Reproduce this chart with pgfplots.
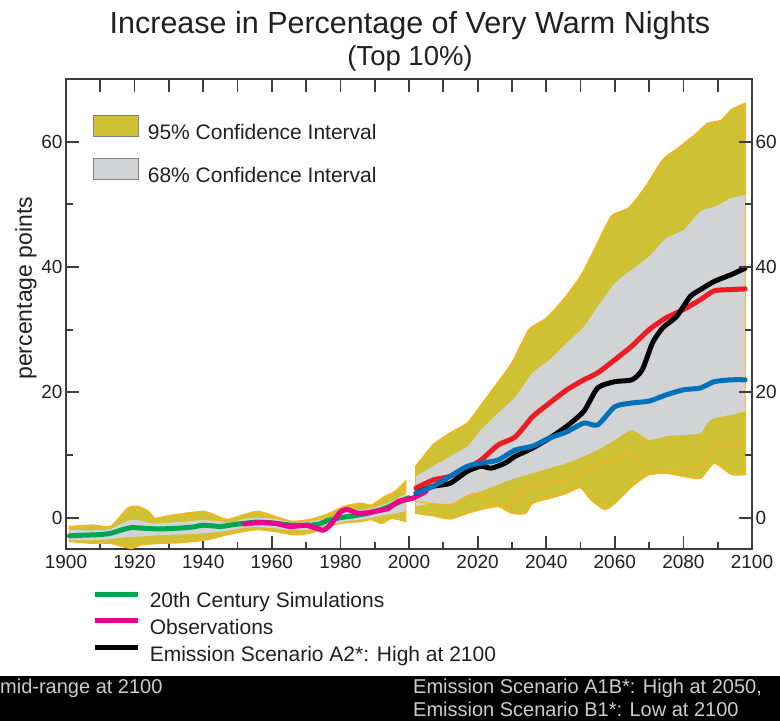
\documentclass[border=0pt]{standalone}
\usepackage{fontspec}
\setmainfont{Liberation Sans}
\usepackage{pgfplots}
\pgfplotsset{compat=1.18}
\usepgfplotslibrary{fillbetween}
\definecolor{yfill}{RGB}{206,193,52}
\definecolor{oedge}{RGB}{247,180,30}
\definecolor{gfill}{RGB}{209,211,212}
\definecolor{cgreen}{RGB}{0,166,81}
\definecolor{cmag}{RGB}{236,0,140}
\definecolor{cred}{RGB}{237,28,36}
\definecolor{cblue}{RGB}{0,114,188}
\definecolor{axg}{RGB}{60,60,60}
\definecolor{txt}{RGB}{35,31,32}
\begin{document}
\begin{tikzpicture}[x=1pt,y=1pt]
\pgfplotsset{
  common/.style={at={(0,0)}, anchor=south west, scale only axis,
    width=686pt, height=470pt, xmin=1900, xmax=2100, ymin=-5, ymax=70,
    /pgf/number format/1000 sep={}, /pgf/number format/assume math mode=true,
    tick align=inside, major tick length=13pt, minor tick length=7pt,
    tick style={axg, line width=1.8pt},
    axis line style={draw=axg, line width=1.8pt},
    ticklabel style={font=\fontsize{19}{19}\selectfont, text=txt},
    xticklabel style={yshift=-3pt}},
  hidden/.style={forget plot, smooth, tension=0.35, draw=none},
  curve/.style={forget plot, line width=5pt, line join=round, line cap=round, smooth, tension=0.4},
}
\begin{axis}[common,
  xtick={1900,1920,...,2100}, minor xtick={1910,1930,...,2090},
  ytick={0,20,40,60}, minor ytick={10,30,50},
  xtick pos=left, ytick pos=left,
  ylabel={percentage points},
  ylabel style={at={(axis description cs:-0.0583,0.555)}, anchor=center, font=\fontsize{23}{23}\selectfont, text=txt},
  legend style={draw=none, fill=none, at={(axis description cs:0.0394,0.9234)}, anchor=north west,
    font=\fontsize{21}{21}\selectfont, text=txt, inner sep=0pt, row sep=17pt, column sep=0pt,
    nodes={inner sep=0pt}},
  legend cell align=left,
  legend image code/.code={\draw[#1, draw=gray, line width=1.2pt] (0pt,-4pt) rectangle (45pt,17pt);\path[draw=none,fill=none] (0,0) -- (54pt,0);},
]
\addlegendimage{fill=yfill}
\addlegendentry{95\% Confidence Interval}
\addlegendimage{fill=gfill}
\addlegendentry{68\% Confidence Interval}
% ---- historical 95%
\addplot[hidden, name path=hu95] coordinates {
(1901,-1.4)(1908,-1.2)(1913,-1.4)(1918,1.5)(1921,1.8)(1924,1.0)(1926,-0.1)(1930,0.3)(1935,0.7)(1940,1.0)(1943,0.5)(1947,-0.3)(1952,0.5)(1956,1.0)(1961,0.2)(1966,-0.6)(1971,-0.3)(1976,0.5)(1981,1.8)(1986,2.3)(1989,2.0)(1993,3.4)(1996,4.2)(1999,5.8)
};
\addplot[hidden, name path=hl95] coordinates {
(1901,-3.8)(1908,-4.1)(1913,-4.1)(1919,-4.9)(1922,-4.3)(1927,-4.1)(1932,-4.0)(1937,-3.8)(1942,-3.4)(1947,-2.7)(1952,-2.2)(1956,-1.9)(1961,-2.2)(1966,-2.7)(1971,-2.5)(1976,-1.4)(1981,-0.8)(1986,-0.6)(1989,-0.3)(1992,-0.9)(1995,-0.1)(1999,-0.6)
};
\addplot[forget plot, fill=yfill, draw=oedge, line width=1.5pt] fill between[of=hu95 and hl95];
% ---- historical 68%
\addplot[hidden, name path=hu68] coordinates {
(1901,-2.0)(1910,-2.0)(1913,-1.8)(1918,-0.5)(1921,-0.4)(1925,-0.9)(1930,-0.8)(1935,-0.6)(1940,-0.4)(1945,-0.6)(1948,-0.8)(1952,-0.2)(1956,0.0)(1961,-0.2)(1966,-0.8)(1971,-0.6)(1976,-0.1)(1981,0.9)(1986,1.2)(1990,1.6)(1995,2.6)(1999,3.8)
};
\addplot[hidden, name path=hl68] coordinates {
(1901,-3.6)(1908,-3.6)(1913,-3.4)(1918,-3.1)(1922,-3.0)(1927,-2.8)(1932,-2.7)(1937,-2.6)(1942,-2.4)(1947,-2.1)(1952,-1.6)(1956,-1.5)(1961,-1.7)(1966,-2.0)(1971,-1.9)(1976,-1.3)(1981,-0.6)(1986,-0.3)(1991,0.2)(1995,0.6)(1999,1.0)
};
\addplot[forget plot, fill=gfill, draw=none] fill between[of=hu68 and hl68];
% ---- future 95%
\addplot[hidden, name path=fu95] coordinates {
(2002,8.2)(2007,11.6)(2012,13.5)(2017,15.1)(2020,17.2)(2025,20.9)(2030,24.7)(2035,30.0)(2040,31.8)(2045,34.8)(2050,38.5)(2054,42.7)(2059,48.1)(2064,49.4)(2069,52.8)(2074,57.1)(2079,59.2)(2084,61.4)(2087,62.9)(2091,63.4)(2094,65.1)(2098,66.1)
};
\addplot[hidden, name path=fl95] coordinates {
(2002,0.7)(2007,0.3)(2012,-0.2)(2017,0.7)(2021,1.3)(2026,1.8)(2030,0.7)(2034,0.7)(2036,2.3)(2041,3.1)(2046,3.9)(2050,4.8)(2053,2.9)(2057,1.3)(2060,2.3)(2065,5.0)(2070,6.9)(2075,7.1)(2080,6.6)(2085,6.3)(2089,8.7)(2094,6.9)(2098,6.9)
};
\addplot[forget plot, fill=yfill, draw=oedge, line width=1.5pt] fill between[of=fu95 and fl95];
% ---- future 68%
\addplot[hidden, name path=fu68] coordinates {
(2002,6.6)(2007,8.2)(2012,9.8)(2017,11.4)(2021,14.0)(2026,16.7)(2031,19.3)(2036,23.1)(2041,25.2)(2046,27.9)(2051,30.5)(2055,33.7)(2060,37.4)(2065,39.6)(2070,41.7)(2075,44.6)(2080,45.9)(2085,48.9)(2089,49.6)(2094,51.0)(2098,51.5)
};
\addplot[hidden, name path=fl68] coordinates {
(2002,1.8)(2007,2.3)(2012,2.1)(2017,3.4)(2021,4.2)(2026,5.3)(2031,6.3)(2036,7.1)(2041,7.9)(2046,8.7)(2051,9.8)(2055,10.8)(2060,12.4)(2065,14.0)(2070,12.4)(2075,13.0)(2080,13.2)(2085,13.5)(2087,15.1)(2089,15.9)(2094,16.4)(2098,17.0)
};
\addplot[forget plot, fill=gfill, draw=none] fill between[of=fu68 and fl68];
% thin orange line inside lower 95% band
\addplot[forget plot, draw=oedge, line width=1.2pt, smooth, tension=0.4] coordinates {
(2002,2.6)(2012,2.1)(2019,3.9)(2026,1.8)(2030,2.3)(2034,4.7)(2041,5.5)(2048,6.3)(2055,8.7)(2060,9.0)(2064,10.3)(2067,8.7)(2070,6.9)(2075,7.4)(2085,8.2)(2089,11.6)(2094,11.3)(2098,12.4)
};
% 20th century simulations
\addplot[curve, draw=cgreen] coordinates {
(1901,-2.9)(1905,-2.8)(1910,-2.7)(1913,-2.5)(1916,-2.0)(1919,-1.6)(1923,-1.7)(1927,-1.8)(1932,-1.7)(1937,-1.5)(1940,-1.2)(1945,-1.4)(1949,-1.1)(1952,-0.9)(1956,-0.7)(1961,-0.9)(1966,-1.2)(1971,-1.2)(1974,-1.0)(1976,-0.5)(1980,0.0)(1984,0.3)(1988,0.7)(1992,1.3)(1996,2.2)(2000,3.2)
};
% observations
\addplot[curve, draw=cmag] coordinates {
(1952,-1.0)(1956,-0.8)(1961,-0.9)(1965,-1.4)(1968,-1.3)(1970,-1.2)(1973,-1.7)(1975,-2.0)(1977,-1.2)(1980,0.9)(1982,1.3)(1985,0.7)(1988,0.8)(1991,1.1)(1994,1.5)(1997,2.6)(2001,3.1)(2005,4.2)
};
% A1B
\addplot[curve, draw=cred] coordinates {
(2002,4.7)(2007,6.0)(2012,6.6)(2017,7.9)(2021,9.2)(2026,11.6)(2031,12.9)(2036,16.1)(2041,18.3)(2046,20.4)(2051,22.0)(2055,23.1)(2060,25.2)(2065,27.4)(2070,30.0)(2075,31.9)(2080,33.2)(2085,34.8)(2089,36.2)(2094,36.4)(2098,36.5)
};
% A2
\addplot[curve, draw=black] coordinates {
(2002,3.9)(2007,5.0)(2012,5.5)(2017,7.4)(2021,8.2)(2024,7.9)(2028,8.7)(2031,9.8)(2036,11.1)(2041,12.7)(2046,14.6)(2051,17.0)(2055,20.7)(2060,21.7)(2065,22.0)(2068,23.6)(2071,27.9)(2074,30.3)(2078,32.1)(2082,35.3)(2085,36.4)(2089,37.7)(2094,38.8)(2098,39.8)
};
% B1
\addplot[curve, draw=cblue] coordinates {
(2002,3.9)(2007,5.0)(2012,6.6)(2017,8.2)(2021,8.7)(2026,9.2)(2031,10.8)(2036,11.4)(2041,12.7)(2046,13.7)(2051,15.1)(2055,14.8)(2060,17.7)(2065,18.3)(2070,18.6)(2075,19.6)(2080,20.4)(2085,20.7)(2089,21.7)(2094,22.0)(2098,22.0)
};
\end{axis}
\begin{axis}[common,
  axis x line*=top, axis y line*=right,
  axis line style={-},
  xtick={1900,1910,...,2100}, xticklabels={},
  ytick={0,20,40,60}, minor ytick={10,30,50},
  legend style={draw=none, fill=none, at={(axis description cs:0.038,-0.09)}, anchor=north west,
    font=\fontsize{21}{21}\selectfont, text=txt, inner sep=0pt, row sep=9pt,
    nodes={inner sep=0pt}},
  legend cell align=left,
  legend image code/.code={\draw[#1, line width=5pt] (0pt,7pt) -- (43pt,7pt);\path[draw=none,fill=none] (0,0) -- (55pt,0);},
]
\addlegendimage{cgreen}
\addlegendentry{20th Century Simulations}
\addlegendimage{cmag}
\addlegendentry{Observations}
\addlegendimage{black}
\addlegendentry{Emission Scenario A2*: High at 2100}
\end{axis}
\node[anchor=base, font=\fontsize{30.5}{30.5}\selectfont, text=txt] at (344,515) {Increase in Percentage of Very Warm Nights};
\node[anchor=base, font=\fontsize{27.5}{27.5}\selectfont, text=txt] at (344,483) {(Top 10\%)};
\fill[black] (-66,-172) rectangle (714,-127);
\node[anchor=west, inner sep=0pt, font=\fontsize{20}{20}\selectfont, text=gray!40] at (-66,-139) {mid-range at 2100};
\node[anchor=west, inner sep=0pt, font=\fontsize{20}{20}\selectfont, text=gray!40] at (347,-139) {Emission Scenario A1B*: High at 2050,};
\node[anchor=west, inner sep=0pt, font=\fontsize{20}{20}\selectfont, text=gray!40] at (347,-160) {Emission Scenario B1*: Low at 2100};
\useasboundingbox (-66,-172) rectangle (714,549);
\end{tikzpicture}
\end{document}
